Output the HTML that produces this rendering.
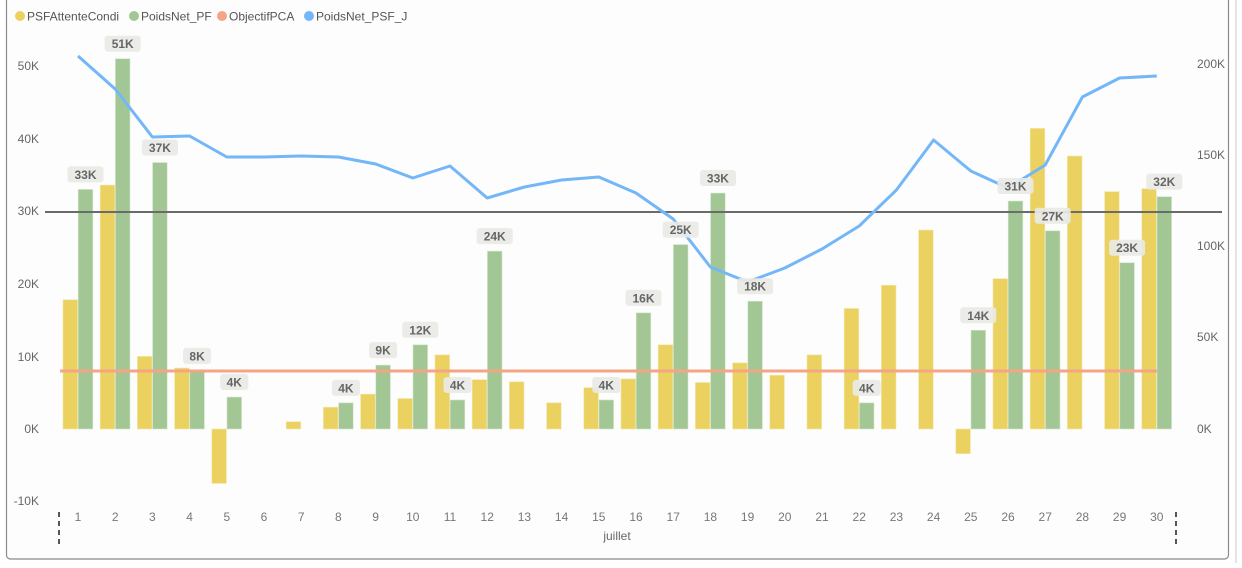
<!DOCTYPE html>
<html><head><meta charset="utf-8"><style>
html,body{margin:0;padding:0;background:#fff;}
body{width:1242px;height:563px;overflow:hidden;font-family:"Liberation Sans",sans-serif;}
</style></head><body>
<svg id="c" width="1242" height="563" xmlns="http://www.w3.org/2000/svg" font-family="Liberation Sans, sans-serif">
<rect x="6.5" y="-4" width="1222" height="563" rx="4" fill="#fcfdfc" stroke="#8a8a8a" stroke-width="1.2"/>
<line x1="1236" y1="0" x2="1236" y2="563" stroke="#c8c8c8"/>
<g font-size="12" fill="#555">
<circle cx="20" cy="16" r="5" fill="#ebd160"/><text x="27" y="20.5">PSFAttenteCondi</text>
<circle cx="134" cy="16" r="5" fill="#a3c794"/><text x="141" y="20.5">PoidsNet_PF</text>
<circle cx="222" cy="16" r="5" fill="#f3a585"/><text x="229" y="20.5">ObjectifPCA</text>
<circle cx="309" cy="16" r="5" fill="#73b7f8"/><text x="316" y="20.5">PoidsNet_PSF_J</text>
</g>
<g id="g"></g>
</svg>
<script>
const g=document.getElementById('g');let s='';
const y0=429,k=7.26;
const Y=[17.8,33.6,10,8.4,-7.5,0,1,3,4.8,4.2,10.2,6.8,6.5,3.6,5.7,6.9,11.6,6.4,9.1,7.4,10.2,16.6,19.8,27.4,-3.4,20.7,41.4,37.6,32.7,33.1];
const G=[33,51,36.7,8,4.4,0,0,3.6,8.8,11.6,4,24.5,0,0,4,16,25.4,32.5,17.6,0,0,3.6,0,0,13.6,31.4,27.3,0,22.9,32];
const L=[56,89,137,136,157,157,156,157,164,178,166,198,187,180,177,193,219,267,282,268,249,226,190,140,171,188,165,97,78,76];
const lt=['33K','51K','37K','8K','4K','','','4K','9K','12K','4K','24K','','','4K','16K','25K','33K','18K','','','4K','','','14K','31K','27K','','23K','32K'];
const X=i=>78+i*37.2;
// axis labels
const la=[[50,66],[40,139],[30,211],[20,284],[10,357],[0,429],[-10,501]];
la.forEach(a=>s+=`<text x="39" y="${a[1]+4}" font-size="12" fill="#666" text-anchor="end">${a[0]}K</text>`);
[[200,64],[150,155],[100,246],[50,337],[0,429]].forEach(a=>s+=`<text x="1197" y="${a[1]+4}" font-size="12" fill="#666">${a[0]}K</text>`);
for(let i=0;i<30;i++){const x=X(i);
 let v=Y[i];if(v){let h=Math.abs(v)*k;s+=`<rect x="${x-15}" y="${v>0?y0-h:y0}" width="14.6" height="${h}" fill="#ebd160" stroke="#f3e6a8" stroke-width="0.6"/>`;}
 v=G[i];if(v){let h=v*k;s+=`<rect x="${x+0.2}" y="${y0-h}" width="14.6" height="${h}" fill="#a3c794" stroke="#d4e6cc" stroke-width="0.6"/>`;}
 s+=`<text x="${x}" y="521" font-size="12" fill="#777" text-anchor="middle">${i+1}</text>`;
}
s+=`<line x1="45" y1="212" x2="1222" y2="212" stroke="#6b6b6b" stroke-width="2"/>`;
s+=`<line x1="60" y1="371" x2="1157" y2="371" stroke="#f3a585" stroke-width="3"/>`;
s+=`<polyline fill="none" stroke="#73b7f8" stroke-width="3" stroke-linejoin="round" points="${L.map((y,i)=>X(i)+','+y).join(' ')}"/>`;
for(let i=0;i<30;i++){if(!lt[i])continue;const x=X(i)+7.5,ty=y0-G[i]*k-15;const w=lt[i].length*8+12;
 s+=`<rect x="${x-w/2}" y="${ty-8}" width="${w}" height="16" rx="3" fill="#e9e9e6" opacity="0.92"/><text x="${x}" y="${ty+4.5}" font-size="12" font-weight="bold" fill="#666" text-anchor="middle">${lt[i]}</text>`;}
s+=`<line x1="59" y1="512" x2="59" y2="546" stroke="#555" stroke-width="2" stroke-dasharray="5,4"/><line x1="1176" y1="512" x2="1176" y2="546" stroke="#555" stroke-width="2" stroke-dasharray="5,4"/>`;
s+=`<text x="617" y="540" font-size="12" fill="#666" text-anchor="middle">juillet</text>`;
g.innerHTML=s;
</script>
</body></html>
